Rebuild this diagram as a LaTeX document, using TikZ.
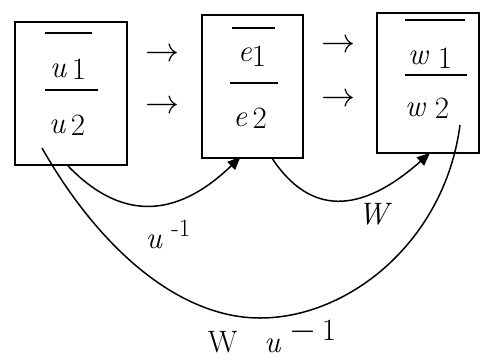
\documentclass[tikz,border=0pt]{standalone}
\usetikzlibrary{arrows.meta}
\begin{document}
\begin{tikzpicture}[
    x=1pt, y=-1pt,
    box/.style={rectangle, draw, line width=1.8pt, inner sep=0pt},
    txt/.style={font=\fontsize{31}{34}\selectfont, inner sep=0pt},
    arr/.style={inner sep=0pt},
    bar/.style={line width=1.8pt},
    map/.style={line width=1.5pt},
    tip/.style={map, -{Triangle[length=13pt,width=11pt]}}
]
    \useasboundingbox (0,0) rectangle (484,362);

    \node[box, minimum width=112pt, minimum height=143pt] (box1) at (71,93.5) {};
    \node[box, minimum width=101pt, minimum height=143pt] (box2) at (252.5,86.5) {};
    \node[box, minimum width=102pt, minimum height=140pt] (box3) at (428,83) {};

    % fractions inside the boxes
    \node[txt] (u1) at (68,69) {\textit{u}\,\raisebox{-2pt}{1}};
    \node[txt] (u2) at (67,125) {\textit{u}\,\raisebox{-2pt}{2}};
    \draw[bar] (45,33) -- (92,33);
    \draw[bar] (45,90) -- (98,90);

    \node[txt] (e1) at (252,56) {\textit{e}\raisebox{-5pt}{1}};
    \node[txt] (e2) at (250,118) {\textit{e}\,\raisebox{-2pt}{2}};
    \draw[bar] (232,28) -- (275,28);
    \draw[bar] (230,83) -- (278,83);

    \node[txt] (w1) at (430,58) {\textit{w}\;\raisebox{-4pt}{1}};
    \node[txt] (w2) at (427,108) {\textit{w}\;\raisebox{-2pt}{2}};
    \draw[bar] (405,20) -- (465,20);
    \draw[bar] (405,75) -- (467,75);

    % arrows between the boxes
    \node[arr] (a1) at (162,55) {\scalebox{3.4}{$\rightarrow$}};
    \node[arr] (a2) at (162,107) {\scalebox{3.4}{$\rightarrow$}};
    \node[arr] (a3) at (338,46) {\scalebox{3.4}{$\rightarrow$}};
    \node[arr] (a4) at (338,100) {\scalebox{3.4}{$\rightarrow$}};

    % maps
    \coordinate (s1) at (42,148);
    \coordinate (t3) at (460,125);
    \draw[tip] ([xshift=-3pt]box1.south) .. controls (120,220) and (175,220) .. ([xshift=-12pt,yshift=2pt]box2.south);
    \draw[tip] ([xshift=20pt]box2.south) .. controls (310,215) and (360,215) .. ([xshift=2pt,yshift=1pt]box3.south);
    \draw[map] (s1) .. controls (100,250) and (180,318) .. (260,318)
                    .. controls (350,318) and (445,240) .. (t3);

    \node[txt] (inv) at (168,234) {\textit{u}\raisebox{12pt}{\;\fontsize{25}{28}\selectfont -1}};
    \node[txt] (w) at (375,214) {\textit{W}};
    \node[txt] (wu) at (272,336) {W\;\; \textit{u}\raisebox{12pt}{\;\scalebox{1.4}{$-$}\,1}};
\end{tikzpicture}
\end{document}
